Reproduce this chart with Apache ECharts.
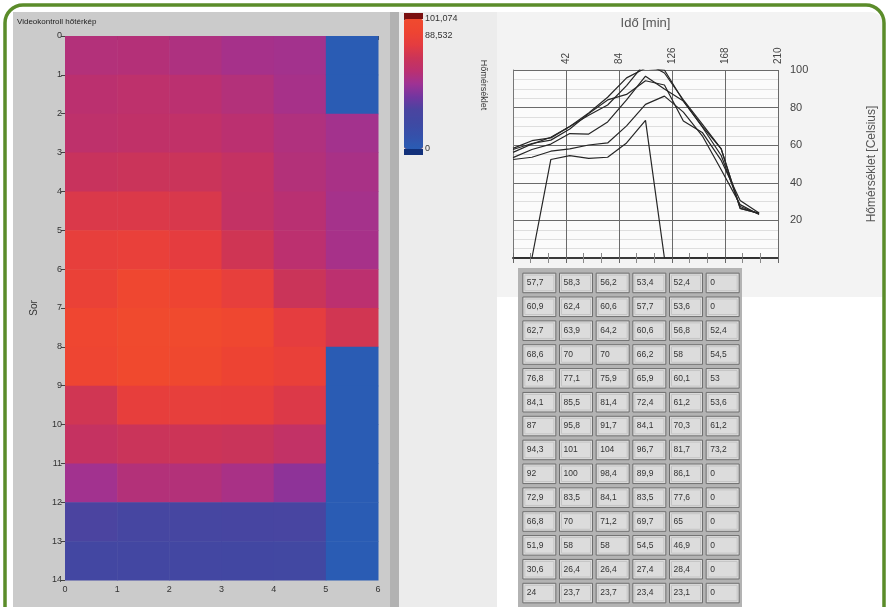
<!DOCTYPE html>
<html style="height: 100%">
<head>
	<meta charset="utf-8">
</head>
<body style="height: 100%; margin: 0; background: #fff">
<div id="container" style="width: 889px; height: 607px"></div>
<script type="text/javascript" src="https://cdn.jsdelivr.net/npm/echarts@6/dist/echarts.min.js"></script>
<script type="text/javascript">
    // measurement times (min), one per table row
    var times = [0, 15, 30, 45, 60, 75, 90, 105, 120, 135, 150, 165, 180, 195];
    // temperatures per sensor column (Celsius)
    var col0 = [57.7, 60.9, 62.7, 68.6, 76.8, 84.1, 87, 94.3, 92, 72.9, 66.8, 51.9, 30.6, 24];
    var col1 = [58.3, 62.4, 63.9, 70, 77.1, 85.5, 95.8, 101, 100, 83.5, 70, 58, 26.4, 23.7];
    var col2 = [56.2, 60.6, 64.2, 70, 75.9, 81.4, 91.7, 104, 98.4, 84.1, 71.2, 58, 26.4, 23.7];
    var col3 = [53.4, 57.7, 60.6, 66.2, 65.9, 72.4, 84.1, 96.7, 89.9, 83.5, 69.7, 54.5, 27.4, 23.4];
    var col4 = [52.4, 53.6, 56.8, 58, 60.1, 61.2, 70.3, 81.7, 86.1, 77.6, 65, 46.9, 28.4, 23.1];
    var col5 = [0, 0, 52.4, 54.5, 53, 53.6, 61.2, 73.2, 0, 0, 0, 0, 0, 0];
    var columns = [col0, col1, col2, col3, col4, col5];
    var rampTicks = [0, 88.532, 101.074];
    var rampColors = ['#2a5cb4', '#3551aa', '#3f49a3', '#4a44a0', '#7236a0', '#9e3294',
                      '#bb3070', '#cb3458', '#e43c40', '#ee4432', '#f04a2e'];

    var font = 'Liberation Sans';

    function comma(v) {
        return String(v).replace('.', ',');
    }

    var cells = [];
    for (var c = 0; c < columns.length; c++) {
        for (var r = 0; r < columns[c].length; r++) {
            cells.push([c, r, columns[c][r]]);
        }
    }

    function renderCell(params, api) {
        var p0 = api.coord([api.value(0), api.value(1)]);
        var p1 = api.coord([api.value(0) + 1, api.value(1) + 1]);
        return {
            type: 'rect',
            shape: {
                x: Math.min(p0[0], p1[0]), y: Math.min(p0[1], p1[1]),
                width: Math.abs(p1[0] - p0[0]) + 0.5, height: Math.abs(p1[1] - p0[1]) + 0.5
            },
            style: {fill: api.visual('color')}
        };
    }

    function renderTableCell(params, api) {
        var a = api.coord([api.value(0) + 0.05, api.value(1) + 0.09]);
        var b = api.coord([api.value(0) + 0.95, api.value(1) + 0.91]);
        return {
            type: 'group',
            children: [
                {type: 'rect', shape: {x: a[0], y: a[1], width: b[0] - a[0], height: b[1] - a[1]},
                 style: {fill: '#dcdcdc', stroke: '#6e6e6e', lineWidth: 1}},
                {type: 'rect', shape: {x: a[0] + 2, y: a[1] + 2, width: b[0] - a[0] - 4, height: b[1] - a[1] - 4},
                 style: {fill: 'none', stroke: '#c4c4c4', lineWidth: 1}},
                {type: 'text', style: {x: a[0] + 4, y: (a[1] + b[1]) / 2, text: comma(api.value(2)),
                 fill: '#333', font: '8.5px ' + font, verticalAlign: 'middle'}}
            ]
        };
    }

    var lines = columns.map(function (col) {
        return {
            type: 'line',
            xAxisIndex: 1,
            yAxisIndex: 1,
            symbol: 'none',
            lineStyle: {color: '#262626', width: 1.2},
            data: times.map(function (t, i) { return [t, col[i]]; })
        };
    });

    var dom = document.getElementById('container');
    var myChart = echarts.init(dom);
    var option = {
        backgroundColor: '#fff',
        animation: false,
        textStyle: {fontFamily: font},
        graphic: [
            {type: 'rect', z: -5, shape: {x: 13, y: 12, width: 386, height: 600}, style: {fill: '#cbcbcb'}},
            {type: 'rect', z: -5, shape: {x: 390, y: 12, width: 9, height: 600}, style: {fill: '#b2b2b2'}},
            {type: 'rect', z: -5, shape: {x: 399, y: 12, width: 98, height: 600}, style: {fill: '#ececec'}},
            {type: 'rect', z: -5, shape: {x: 497, y: 12, width: 387, height: 285, r: [0, 14, 0, 0]}, style: {fill: '#f3f3f3'}},
            {type: 'rect', z: -5, shape: {x: 518, y: 268, width: 224, height: 345}, style: {fill: '#b3b3b3'}},
            {type: 'text', z: 5, style: {x: 17, y: 22, text: 'Videokontroll hőtérkép', fill: '#222',
             font: '8px ' + font, verticalAlign: 'middle'}},
            {type: 'rect', z: 5, shape: {x: 404, y: 13, width: 19, height: 6}, style: {fill: '#7a1010'}},
            {type: 'rect', z: 5, shape: {x: 404, y: 149, width: 19, height: 6}, style: {fill: '#12307a'}},
            {type: 'text', z: 5, x: 483, y: 85, rotation: -Math.PI / 2,
             style: {x: 0, y: 0, text: 'Hőmérséklet', fill: '#333', font: '9px ' + font,
                     align: 'center', verticalAlign: 'middle'}},
            {type: 'rect', z: 100, shape: {x: 5, y: 5, width: 879, height: 640, r: 18},
             style: {fill: 'none', stroke: '#5b8c2a', lineWidth: 3.5}}
        ],
        visualMap: {
            type: 'continuous',
            seriesIndex: 0,
            dimension: 2,
            min: 0,
            max: 101.074,
            calculable: false,
            left: 404,
            top: 19,
            padding: 0,
            itemWidth: 19,
            itemHeight: 130,
            inRange: {color: rampColors},
            outOfRange: {color: ['#f04a2e']}
        },
        grid: [
            {left: 65, top: 36, width: 313, height: 544},
            {left: 513, top: 70, width: 265, height: 188, show: true, backgroundColor: '#fbfbfb', borderWidth: 0},
            {left: 404, top: 19, width: 19, height: 130},
            {left: 521, top: 271, width: 220, height: 334}
        ],
        xAxis: [
            {
                gridIndex: 0, type: 'value', min: 0, max: 6, interval: 1,
                axisLine: {show: false},
                axisTick: {length: 4, lineStyle: {color: '#444'}},
                axisLabel: {fontSize: 9, color: '#333', margin: 5},
                splitLine: {show: false}
            },
            {
                gridIndex: 1, type: 'value', min: 0, max: 210, interval: 42, position: 'top',
                name: 'Idő [min]', nameLocation: 'middle', nameGap: 40,
                nameTextStyle: {fontSize: 13, color: '#555'},
                axisLine: {show: false},
                axisTick: {show: true, inside: true, length: 5, lineStyle: {color: '#666'}},
                minorTick: {show: true, splitNumber: 3, length: 5, lineStyle: {color: '#888'}},
                axisLabel: {rotate: 90, showMinLabel: false, fontSize: 10, color: '#444', margin: 6},
                splitLine: {show: true, lineStyle: {color: '#6a6a6a', width: 1}}
            },
            {
                gridIndex: 1, type: 'value', min: 0, max: 210, interval: 42, position: 'bottom',
                axisLine: {show: true, lineStyle: {color: '#3a3a3a', width: 2}},
                axisTick: {show: true, inside: true, length: 5, lineStyle: {color: '#666'}},
                minorTick: {show: true, splitNumber: 3, length: 5, lineStyle: {color: '#888'}},
                axisLabel: {show: false},
                splitLine: {show: false}
            },
            {gridIndex: 2, type: 'value', min: 0, max: 1, show: false},
            {gridIndex: 3, type: 'value', min: 0, max: 6, show: false}
        ],
        yAxis: [
            {
                gridIndex: 0, type: 'value', min: 0, max: 14, interval: 1, inverse: true,
                name: 'Sor', nameLocation: 'middle', nameGap: 26, nameRotate: 90,
                nameTextStyle: {fontSize: 10, color: '#333'},
                axisLine: {show: false},
                axisTick: {length: 4, lineStyle: {color: '#444'}},
                axisLabel: {fontSize: 9, color: '#333', margin: 3},
                splitLine: {show: false}
            },
            {
                gridIndex: 1, type: 'value', min: 0, max: 100, interval: 20, position: 'right',
                name: 'Hőmérséklet [Celsius]', nameLocation: 'middle', nameGap: 88, nameRotate: 90,
                nameTextStyle: {fontSize: 12, color: '#555'},
                axisLine: {show: true, lineStyle: {color: '#777'}},
                axisTick: {show: false},
                minorTick: {show: false, splitNumber: 4},
                minorSplitLine: {show: true, lineStyle: {color: '#dedede'}},
                axisLabel: {showMinLabel: false, fontSize: 11, color: '#444', margin: 12},
                splitLine: {show: true, lineStyle: {color: '#6a6a6a', width: 1}}
            },
            {
                gridIndex: 2, type: 'value', min: 0, max: 101.074, position: 'right',
                axisLine: {show: false},
                axisTick: {show: true, length: 4, customValues: rampTicks, lineStyle: {color: '#333'}},
                axisLabel: {customValues: rampTicks, fontSize: 9, color: '#333', margin: 2,
                            formatter: function (v) { return comma(v); }},
                splitLine: {show: false}
            },
            {gridIndex: 3, type: 'value', min: 0, max: 14, inverse: true, show: false}
        ],
        series: [
            {
                type: 'custom',
                xAxisIndex: 0,
                yAxisIndex: 0,
                renderItem: renderCell,
                encode: {x: 0, y: 1},
                data: cells
            },
            {
                type: 'custom',
                xAxisIndex: 4,
                yAxisIndex: 3,
                renderItem: renderTableCell,
                encode: {x: 0, y: 1},
                data: cells
            }
        ].concat(lines)
    };

    myChart.setOption(option, true);
</script>
</body>
</html>
